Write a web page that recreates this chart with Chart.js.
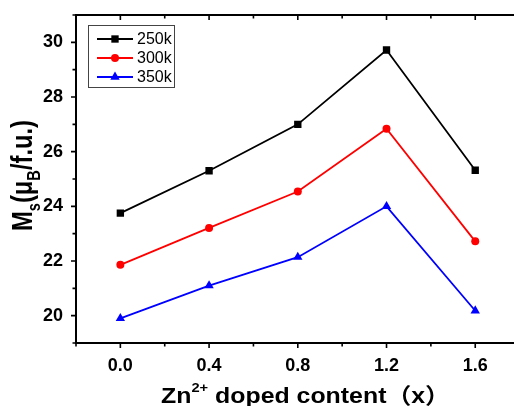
<!DOCTYPE html>
<html>
<head>
<meta charset="utf-8">
<script src="https://cdn.jsdelivr.net/npm/chart.js@4/dist/chart.umd.min.js"></script>
<style>
html,body{margin:0;padding:0;background:#fff;overflow:hidden;}
#wrap{position:relative;width:514px;height:406px;overflow:hidden;}
#c{display:block;width:525px;height:406px;}
</style>
</head>
<body>
<div id="wrap"><canvas id="c" width="525" height="406"></canvas></div>
<script>
// ---- data ----
const xValues = [0.0, 0.4, 0.8, 1.2, 1.6];
const seriesNames = ['250k', '300k', '350k'];
const ms250 = [23.75, 25.30, 27.00, 29.72, 25.32];
const ms300 = [21.86, 23.21, 24.54, 26.84, 22.72];
const ms350 = [19.90, 21.10, 22.14, 24.00, 20.18];
const xTickLabels = ['0.0', '0.4', '0.8', '1.2', '1.6'];
const yTickLabels = ['20', '22', '24', '26', '28', '30'];

const FONT = '"Liberation Sans", Arial, "Noto Sans CJK SC", sans-serif';

function pts(arr){ return xValues.map((x,i)=>({x:x, y:arr[i]})); }

const datasets = [
  {label: seriesNames[0], data: pts(ms250), borderColor:'#000000', backgroundColor:'#000000', pointStyle:'rect', pointRadius:5.2},
  {label: seriesNames[1], data: pts(ms300), borderColor:'#ff0000', backgroundColor:'#ff0000', pointStyle:'circle', pointRadius:4},
  {label: seriesNames[2], data: pts(ms350), borderColor:'#0000ff', backgroundColor:'#0000ff', pointStyle:'triangle', pointRadius:5.4}
].map(d => Object.assign(d, {borderWidth:1.8, showLine:true, tension:0, pointBorderWidth:0, pointHoverRadius:d.pointRadius}));

function zeroPad(s){ s.paddingTop = 0; s.paddingBottom = 0; s.paddingLeft = 0; s.paddingRight = 0; }

// ---- frame, ticks, titles, legend ----
const decor = {
  id:'decor',
  afterDraw(chart){
    const ctx = chart.ctx, a = chart.chartArea;
    const xs = chart.scales.x, ys = chart.scales.y;
    ctx.save();
    ctx.strokeStyle = '#000'; ctx.lineWidth = 2;
    ctx.strokeRect(a.left, a.top, a.right - a.left, a.bottom - a.top);
    ctx.lineWidth = 1.6;
    for (let k = -1; k <= 9; k++) {
      const v = k * 0.2;
      const px = xs.getPixelForValue(v);
      const major = (k % 2 === 0);
      const L = major ? 5 : 3.5;
      ctx.beginPath();
      ctx.moveTo(px, a.bottom); ctx.lineTo(px, a.bottom + L);
      ctx.moveTo(px, a.top); ctx.lineTo(px, a.top + L);
      ctx.stroke();
    }
    for (let v = 19; v <= 31; v++) {
      const py = ys.getPixelForValue(v);
      const major = (v % 2 === 0);
      const L = major ? 5 : 3.5;
      ctx.beginPath();
      ctx.moveTo(a.left, py); ctx.lineTo(a.left - L, py);
      ctx.moveTo(a.right, py); ctx.lineTo(a.right - L, py);
      ctx.stroke();
    }
    ctx.restore();

    // x title: Zn2+ doped content （x）
    ctx.save();
    ctx.fillStyle = '#000';
    ctx.textBaseline = 'alphabetic';
    const F = 22, Fs = 13;
    const xParts = [
      {t:'Zn', f:F, dy:0},
      {t:'2+', f:Fs, dy:-11},
      {t:' doped content', f:F, dy:0},
      {t:'（x）', f:F, dy:0}
    ];
    let w = 0;
    xParts.forEach(p => { ctx.font = 'bold ' + p.f + 'px ' + FONT; p.w = ctx.measureText(p.t).width; w += p.w; });
    const sx = (450 - 161) / w;
    ctx.translate(161, 403);
    ctx.scale(sx, 1);
    let cx = 0;
    xParts.forEach(p => { ctx.font = 'bold ' + p.f + 'px ' + FONT; ctx.fillText(p.t, cx, p.dy); cx += p.w; });
    ctx.restore();

    // y title: Ms(μB/f.u.)
    ctx.save();
    ctx.fillStyle = '#000';
    const G = 26, Gs = 16;
    const yParts = [
      {t:'M', f:G, dy:0},
      {t:'s', f:Gs, dy:7},
      {t:'(μ', f:G, dy:0},
      {t:'B', f:Gs, dy:7},
      {t:'/f.u.)', f:G, dy:0}
    ];
    let wy = 0;
    yParts.forEach(p => { ctx.font = 'bold ' + p.f + 'px ' + FONT; p.w = ctx.measureText(p.t).width; wy += p.w; });
    const sAlong = (231 - 120) / wy;
    ctx.translate(32, 231);
    ctx.rotate(-Math.PI / 2);
    ctx.scale(sAlong, 1.15);
    let cy = 0;
    yParts.forEach(p => { ctx.font = 'bold ' + p.f + 'px ' + FONT; ctx.fillText(p.t, cy, p.dy); cy += p.w; });
    ctx.restore();

    // legend
    ctx.save();
    ctx.strokeStyle = '#444'; ctx.lineWidth = 1;
    ctx.strokeRect(88.5, 25.5, 86, 62);
    const rowsY = [39, 58, 77];
    chart.data.datasets.forEach((ds, i) => {
      const y = rowsY[i];
      ctx.strokeStyle = ds.borderColor; ctx.lineWidth = ds.borderWidth;
      ctx.beginPath(); ctx.moveTo(97, y); ctx.lineTo(133, y); ctx.stroke();
      ctx.fillStyle = ds.backgroundColor;
      Chart.helpers.drawPoint(ctx, {pointStyle: ds.pointStyle, radius: ds.pointRadius, rotation: 0, borderWidth: 0}, 115, y);
      ctx.fillStyle = '#000';
      ctx.font = '16px ' + FONT;
      ctx.textBaseline = 'middle';
      ctx.fillText(ds.label, 137, y + 1);
    });
    ctx.restore();
  }
};

new Chart(document.getElementById('c'), {
  type: 'scatter',
  data: { datasets: datasets },
  options: {
    responsive: false,
    devicePixelRatio: 1,
    animation: false,
    layout: { padding: { left: 0, top: 15, right: 2, bottom: 0 } },
    plugins: { legend: { display: false }, tooltip: { enabled: false } },
    scales: {
      x: {
        type: 'linear', position: 'bottom', min: -0.2, max: 1.8,
        grid: { display: false, drawTicks: false },
        border: { display: false },
        afterBuildTicks: (s) => { s.ticks = xValues.map(v => ({value: v})); },
        ticks: {
          autoSkip: false, maxRotation: 0, padding: 12, color: '#000',
          font: { family: FONT, size: 18, weight: 'bold' },
          callback: (v, i) => xTickLabels[i]
        },
        afterFit: (s) => { s.height = 63; zeroPad(s); }
      },
      y: {
        type: 'linear', position: 'left', min: 19, max: 31,
        grid: { display: false, drawTicks: false },
        border: { display: false },
        afterBuildTicks: (s) => { s.ticks = yTickLabels.map(t => ({value: Number(t)})); },
        ticks: {
          autoSkip: false, padding: 13, color: '#000',
          font: { family: FONT, size: 18, weight: 'bold' },
          callback: (v, i) => yTickLabels[i]
        },
        afterFit: (s) => { s.width = 76; zeroPad(s); }
      }
    }
  },
  plugins: [decor]
});
</script>
</body>
</html>
